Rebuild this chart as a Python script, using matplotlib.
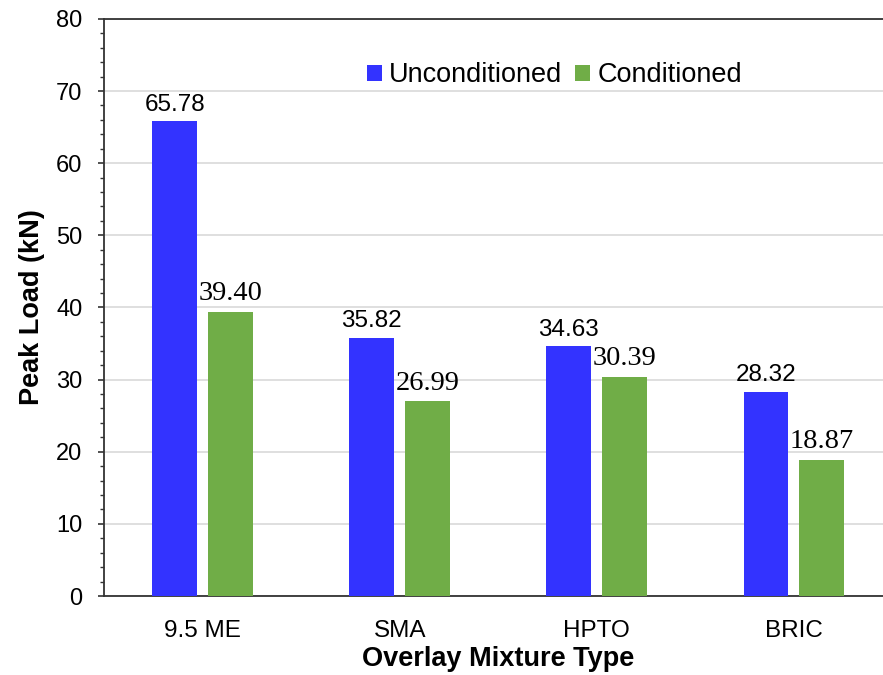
import matplotlib
matplotlib.use("Agg")
import matplotlib.pyplot as plt
import numpy as np
from matplotlib.ticker import MultipleLocator

categories = ["9.5 ME", "SMA", "HPTO", "BRIC"]
unconditioned = [65.78, 35.82, 34.63, 28.32]
conditioned = [39.40, 26.99, 30.39, 18.87]
series_names = ["Unconditioned", "Conditioned"]

blue = "#3333FF"
green = "#70AD47"

fig = plt.figure(figsize=(8.83, 6.75), dpi=100)
ax = fig.add_axes([0.1178, 0.117, 0.893, 0.855])

x = np.arange(len(categories))
w = 0.228
off = 0.142
ax.bar(x - off, unconditioned, w, color=blue, label=series_names[0], zorder=3)
ax.bar(x + off, conditioned, w, color=green, label=series_names[1], zorder=3)

for xi, v in zip(x - off, unconditioned):
    ax.annotate(f"{v:.2f}", (xi, v), xytext=(0, 4), textcoords="offset points",
                ha="center", va="bottom", fontsize=17.5, family="Liberation Sans")
for xi, v in zip(x + off, conditioned):
    ax.annotate(f"{v:.2f}", (xi, v), xytext=(0, 4), textcoords="offset points",
                ha="center", va="bottom", fontsize=20.5, family="Liberation Serif")

ax.set_xlim(-0.5, 3.5)
ax.set_ylim(0, 80)
ax.yaxis.set_major_locator(MultipleLocator(10))
ax.yaxis.set_minor_locator(MultipleLocator(2))
ax.grid(axis="y", which="major", color="#d9d9d9", linewidth=1.2, zorder=0)
ax.set_axisbelow(True)

ax.spines["right"].set_visible(False)
for s in ["left", "bottom", "top"]:
    ax.spines[s].set_color("#333333")
    ax.spines[s].set_linewidth(1.3)

ax.set_xticks(x)
ax.set_xticklabels(categories, fontsize=17.5, family="Liberation Sans")
ax.tick_params(axis="x", length=0, pad=17)
ax.tick_params(axis="y", which="major", length=4.5, width=1.2, color="#333333",
               labelsize=17, pad=11)
ax.tick_params(axis="y", which="minor", length=3.2, width=1.0, color="#333333")
for lab in ax.get_yticklabels():
    lab.set_family("Liberation Sans")

ax.set_ylabel("Peak Load (kN)", fontsize=19.5, fontweight="bold",
              family="Liberation Sans", labelpad=8)
ax.set_xlabel("Overlay Mixture Type", fontsize=19.5, fontweight="bold",
              family="Liberation Sans", labelpad=3)

ax.legend(loc="center", bbox_to_anchor=(0.571, 0.902), ncol=2,
          frameon=False, prop={"family": "Liberation Sans", "size": 19.5},
          handlelength=0.55, handleheight=0.55, handletextpad=0.28,
          columnspacing=0.45, borderpad=0.2)

fig.savefig("out.png", dpi=100)
